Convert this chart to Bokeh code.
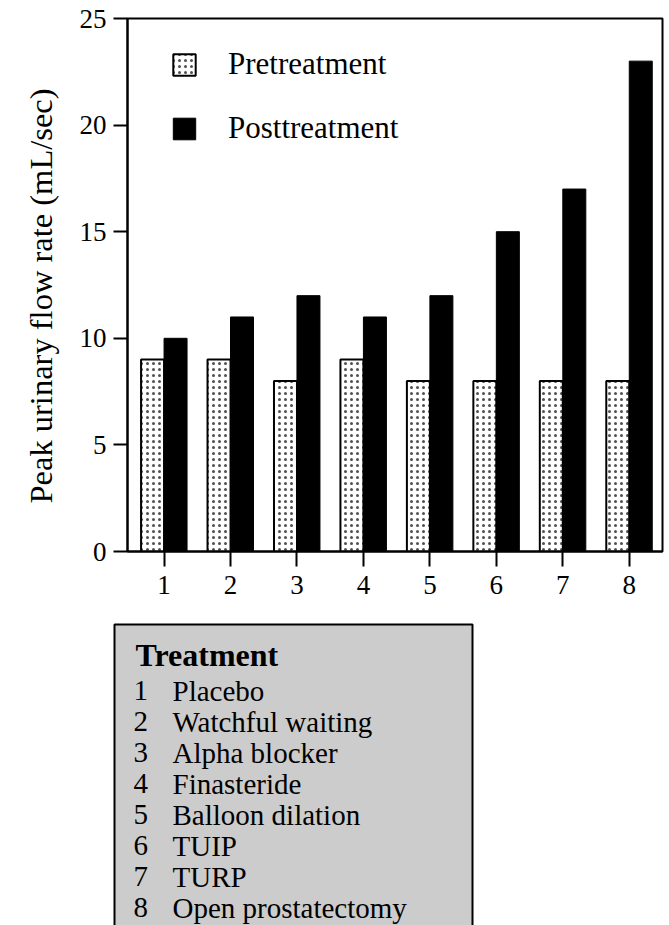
from bokeh.plotting import figure
from bokeh.models import Range1d, FixedTicker, Legend, LegendItem, ColumnDataSource, Title
from bokeh.transform import dodge
from bokeh.embed import file_html
from bokeh.resources import INLINE
from bokeh.core.properties import value

# ---- data ----
treatment_ids = [1, 2, 3, 4, 5, 6, 7, 8]
treatment_names = ["Placebo", "Watchful waiting", "Alpha blocker", "Finasteride",
                   "Balloon dilation", "TUIP", "TURP", "Open prostatectomy"]
pretreatment = [9, 9, 8, 9, 8, 8, 8, 8]
posttreatment = [10, 11, 12, 11, 12, 15, 17, 23]
y_ticks = [0, 5, 10, 15, 20, 25]
series_labels = ["Pretreatment", "Posttreatment"]
y_label = "Peak urinary flow rate (mL/sec)"
box_title = "Treatment"

FONT = "Liberation Serif"
W = 669
H_CHART = 610
H_KEY = 925 - H_CHART

src = ColumnDataSource(dict(x=treatment_ids, pre=pretreatment, post=posttreatment))

p = figure(width=W, height=H_CHART, x_range=Range1d(0.45, 8.5), y_range=Range1d(0, 25),
           output_backend="svg", toolbar_location=None,
           min_border_left=127, min_border_right=7, min_border_top=18, min_border_bottom=59)
p.grid.visible = False
p.outline_line_color = "black"
p.outline_line_width = 2

bw = 0.346
r_pre = p.vbar(x=dodge("x", -bw / 2, range=p.x_range), top="pre", width=bw, bottom=0, source=src,
               fill_color="white", line_color="black", line_width=2,
               hatch_pattern="dot", hatch_scale=6, hatch_color="#505050", hatch_weight=2)
r_post = p.vbar(x=dodge("x", bw / 2, range=p.x_range), top="post", width=bw, bottom=0, source=src,
                fill_color="black", line_color="black", line_width=1)

for ax in (p.xaxis[0], p.yaxis[0]):
    ax.axis_line_width = 2
    ax.major_tick_line_width = 2
    ax.minor_tick_line_color = None
    ax.major_tick_in = 0
    ax.major_label_text_font = FONT
    ax.major_label_text_color = "black"
    ax.major_label_text_font_size = "27px"
    ax.axis_line_color = "black"
    ax.major_tick_line_color = "black"

p.xaxis.ticker = FixedTicker(ticks=treatment_ids)
p.xaxis.major_tick_out = 15
p.xaxis.major_label_standoff = 9

p.yaxis.ticker = FixedTicker(ticks=y_ticks)
p.yaxis.major_tick_out = 14
p.yaxis.major_label_standoff = 7

# y-axis title, placed in the left panel (anchored at the frame's bottom, shifted up)
p.add_layout(Title(text=y_label, align="left", offset=48, standoff=36,
                   text_font=FONT, text_font_size="32.5px", text_font_style="normal",
                   text_color="black"), "left")

legend = Legend(items=[LegendItem(label=series_labels[0], renderers=[r_pre]),
                       LegendItem(label=series_labels[1], renderers=[r_post])],
                location=(43, 405), orientation="vertical",
                glyph_width=28, glyph_height=27, label_height=27, label_standoff=30,
                spacing=28, padding=0, margin=0,
                border_line_color=None, background_fill_alpha=0,
                label_text_font=FONT, label_text_font_size="31px", label_text_color="black")
p.add_layout(legend)

# ---- treatment key (separate root so that its frame is not aligned to the chart) ----
b = figure(width=W, height=H_KEY, x_range=Range1d(0, W), y_range=Range1d(H_KEY, 0),
           output_backend="svg", toolbar_location=None, min_border=0,
           x_axis_location=None, y_axis_location=None)
b.grid.visible = False
b.outline_line_color = None
b.quad(left=[114], right=[472], top=[14], bottom=[H_KEY + 80],
       fill_color="#cccccc", line_color="black", line_width=2)

b.text(x=[135], y=[44], text=[box_title], text_font=value(FONT), text_font_size="32px",
       text_font_style="bold", text_baseline="alphabetic", text_color="black")
row_y = [80 + 31 * i for i in range(len(treatment_ids))]
ksrc = ColumnDataSource(dict(num=[str(i) for i in treatment_ids], name=treatment_names,
                             xn=[133] * len(treatment_ids), xt=[172] * len(treatment_ids), y=row_y))
b.text(x="xn", y="y", text="num", source=ksrc, text_font=value(FONT), text_font_size="29px",
       text_baseline="alphabetic", text_color="black")
b.text(x="xt", y="y", text="name", source=ksrc, text_font=value(FONT), text_font_size="29px",
       text_baseline="alphabetic", text_color="black")

open("out.html", "w").write(file_html([p, b], INLINE))
